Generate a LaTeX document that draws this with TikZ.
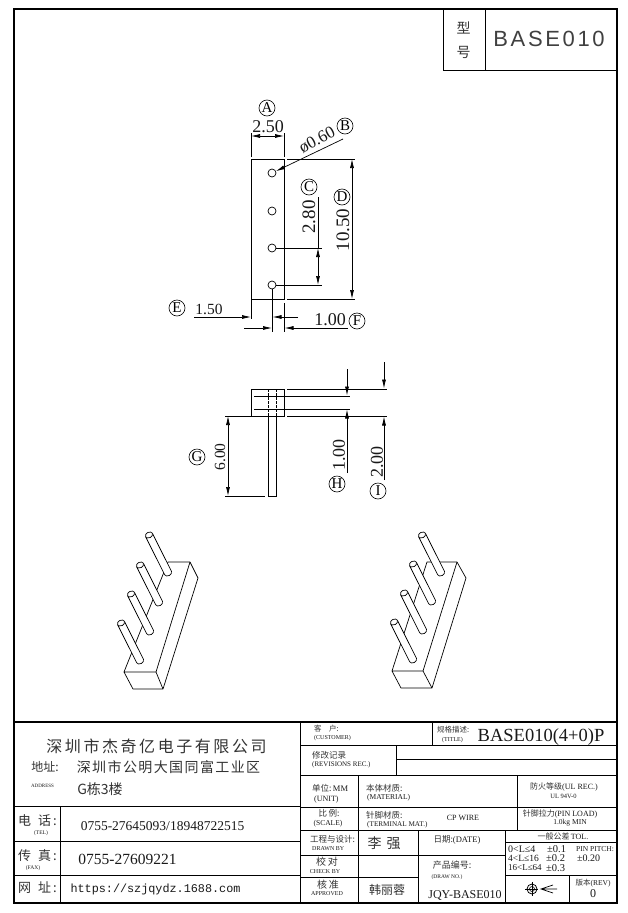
\documentclass[tikz,border=0pt]{standalone}
\usepackage{fontspec}
\setmainfont{Liberation Serif}
\setsansfont{Liberation Sans}
\setmonofont{Liberation Mono}
\newfontfamily\cjk[Color=333333]{Noto Sans CJK SC}
\usetikzlibrary{arrows.meta}
\newcommand{\fs}[1]{\fontsize{#1}{#1}\selectfont}
\newcommand{\ls}[1]{\addfontfeature{LetterSpace=#1}}
\tikzset{
  x=1pt,y=-1pt,
  frame line/.style={line width=0.9pt},
  thick frame/.style={line width=1.8pt},
  dim/.style={line width=0.7pt},
  arr/.style={dim,-{Latex[length=9pt,width=4pt]}},
  arrs/.style={dim,{Latex[length=9pt,width=4pt]}-{Latex[length=9pt,width=4pt]}},
  tx/.style={inner sep=0pt,anchor=center,text=black!90},
  txl/.style={inner sep=0pt,anchor=west,text=black!90},
  circled/.style={draw,circle,line width=0.6pt,inner sep=0pt,minimum size=16pt,font=\fs{15}},
  solid3d/.style={line width=0.7pt,line join=round},
}
% pin: top (x,y), rotated so that local x runs along the pin
\newcommand{\pin}[2]{%
  \begin{scope}[shift={(#1,#2)},rotate=-63.4]
    \draw[solid3d,fill=white] (0,-3.8) -- (42.5,-3.8) arc[start angle=-90,end angle=90,x radius=2.8,y radius=3.8] -- (0,3.8) -- cycle;
    \draw[solid3d,fill=white] (0,0) ellipse [x radius=2.8,y radius=3.8];
  \end{scope}}
\begin{document}
\begin{tikzpicture}
\useasboundingbox (0,0) rectangle (627,913);
\fill[white] (0,0) rectangle (627,913);
% frame
\draw[thick frame] (14,9) rectangle (617,903);
\draw[frame line] (443,9) -- (443,70) -- (617,70);
\draw[frame line] (485,9) -- (485,70);
\node[tx] (xing) at (463.5,28) {\cjk\fs{14}型};
\node[tx] (hao) at (463.5,52) {\cjk\fs{14}号};
\node[tx,text=black!75] (modelname) at (549,39) {\sffamily\fs{22}\ls{12}BASE010};

% top view
\draw[frame line] (251,159) rectangle (284,299);
\foreach \n/\y in {a/173,b/211,c/248,d/285}{
  \node[draw,circle,line width=0.7pt,minimum size=8pt,inner sep=0pt] (h\n) at (272,\y) {};
}
% dim A
\coordinate (a1) at (251,157); \coordinate (a2) at (284,157);
\coordinate (a1t) at (251,133); \coordinate (a2t) at (284,133);
\draw[dim] (a1)--(a1t) (a2)--(a2t);
\coordinate (am) at (267.5,136); \coordinate (al) at (251,136); \coordinate (ar) at (284,136);
\draw[arr] (am)--(al); \draw[arr] (am)--(ar);
\node[tx] (t250) at (268,126.5) {\fs{18}2.50};
\node[circled] (cA) at (267,108) {A};
% leader B
\coordinate (lb) at (343,139);
\draw[arr] (lb)--(ha.25);
\node[tx,rotate=28] (t060) at (317,140) {\fs{17}ø0.60};
\node[circled] (cB) at (345,126) {B};
% dim D
\coordinate (d1a) at (287,159); \coordinate (d1b) at (355,159);
\coordinate (d2a) at (287,299); \coordinate (d2b) at (355,299);
\draw[dim] (d1a)--(d1b) (d2a)--(d2b);
\coordinate (dt) at (352,159); \coordinate (db) at (352,299);
\draw[arrs] (dt)--(db);
\node[tx,rotate=90] (t1050) at (343,230) {\fs{19}10.50};
\node[circled] (cD) at (342,197) {D};
% dim C
\coordinate (cc1) at (322,248); \coordinate (cc2) at (322,285);
\draw[dim] (hc)--(cc1) (hd)--(cc2);
\coordinate (ct) at (318,197); \coordinate (c1) at (318,248); \coordinate (c2) at (318,285);
\draw[dim] (ct)--(c1);
\draw[arrs] (c1)--(c2);
\node[tx,rotate=90] (t280) at (309,217) {\fs{19}2.80};
\node[circled] (cC) at (309,187) {C};
% dims E, F
\coordinate (e1) at (251,319); \coordinate (f1) at (284,303); \coordinate (f2) at (284,332);
\coordinate (g2) at (272,332);
\draw[dim] (251,299)--(e1) (f1)--(f2) (hd)--(g2);
\coordinate (el) at (194,317); \coordinate (et) at (251,317);
\draw[arr] (el)--(et);
\coordinate (er) at (298,317); \coordinate (er2) at (272.5,317);
\draw[arr] (er)--(er2);
\coordinate (fl) at (244,328); \coordinate (fl2) at (272,328);
\draw[arr] (fl)--(fl2);
\coordinate (fr) at (348,328); \coordinate (fr2) at (284.5,328);
\draw[arr] (fr)--(fr2);
\node[tx] (t150) at (209,309) {\fs{15.5}1.50};
\node[tx] (t100) at (330,320) {\fs{18}1.00};
\node[circled] (cE) at (177,308) {E};
\node[circled] (cF) at (357,321) {F};

% side view
\draw[frame line] (251,389) rectangle (284,416);
\draw[frame line] (268,416) -- (268,496) -- (276,496) -- (276,416);
\draw[dim,dash pattern=on 2.5pt off 1.5pt] (268,389)--(268,416) (276,389)--(276,416);
\coordinate (l1) at (254,396); \coordinate (l1r) at (350,396);
\coordinate (l2) at (254,409); \coordinate (l2r) at (350,409);
\draw[dim] (l1)--(l1r) (l2)--(l2r);
\coordinate (s1) at (287,389); \coordinate (s1r) at (387,389);
\coordinate (s2) at (287,416); \coordinate (s2r) at (387,416);
\draw[dim] (s1)--(s1r) (s2)--(s2r);
\draw[dim] (225,416)--(251,416);
\draw[dim] (225,496)--(265,496);
\draw[arrs] (228,416)--(228,496);
\node[tx,rotate=90] (t600) at (220,457) {\fs{15.5}6.00};
\node[circled] (cG) at (197,457) {G};
\coordinate (h1a) at (347,369); \coordinate (h1b) at (347,395.5);
\coordinate (h2a) at (347,473); \coordinate (h2b) at (347,409.5);
\draw[arr] (h1a)--(h1b); \draw[arr] (h2a)--(h2b);
\node[tx,rotate=90] (t100b) at (339,455) {\fs{18}1.00};
\node[circled] (cH) at (337,484) {H};
\coordinate (i1a) at (384,362); \coordinate (i1b) at (384,388.5);
\coordinate (i2a) at (384,480); \coordinate (i2b) at (384,416.5);
\draw[arr] (i1a)--(i1b); \draw[arr] (i2a)--(i2b);
\node[tx,rotate=90] (t200) at (377,462) {\fs{18}2.00};
\node[circled] (cI) at (378,491) {I};

% 3D left
\draw[solid3d] (124,672)--(168,562)--(190,562)--(198,578)--(163,689)--(133,689)--(124,672)--(156,672)--(163,689);
\draw[solid3d] (156,672)--(190,562);
\pin{149}{535}\pin{140}{565}\pin{131}{594}\pin{121}{623}
% 3D right
\draw[solid3d] (392,671)--(427,562)--(457,562)--(466,578)--(432,688)--(401,688)--(392,671)--(423,671)--(432,688);
\draw[solid3d] (423,671)--(457,562);
\pin{422}{535}\pin{413}{564}\pin{404}{593}\pin{394}{622}

% title block lines
\draw[thick frame] (14,722)--(617,722);
\draw[frame line] (300,722)--(300,903);
\draw[frame line] (14,806)--(300,806) (14,841)--(300,841) (14,875)--(300,875);
\draw[frame line] (60,806)--(60,903);
\draw[frame line] (300,745)--(617,745);
\draw[frame line] (432,722)--(432,745);
\draw[frame line] (396,745)--(396,775);
\draw[frame line] (396,759)--(617,759);
\draw[frame line] (300,775)--(617,775);
\draw[frame line] (300,807)--(617,807);
\draw[frame line] (300,830)--(617,830);
\draw[frame line] (358,775)--(358,903);
\draw[frame line] (517,775)--(517,830);
\draw[frame line] (418,830)--(418,903);
\draw[frame line] (505,830)--(505,903);
\draw[frame line] (505,842)--(617,842);
\draw[frame line] (505,875)--(617,875);
\draw[frame line] (300,855)--(505,855);
\draw[frame line] (569,875)--(569,903);
\draw[frame line] (300,877)--(418,877);

% left title block
\node[tx] (co) at (156.5,746) {\cjk\fs{16}\ls{16}深圳市杰奇亿电子有限公司};
\node[tx] (addr) at (45,767) {\cjk\fs{12}地址:};
\node[tx] (addr2) at (168.5,767) {\cjk\fs{14}\ls{10}深圳市公明大国同富工业区};
\node[tx] (addren) at (42.5,786) {\fs{5}ADDRESS};
\node[tx] (addr3) at (100,789) {\cjk\fs{14}G栋3楼};
\node[txl] (tel) at (18,821) {\cjk\fs{13}电\hspace{7pt}话\hspace{2pt}:};
\node[tx] (telen) at (41,833) {\fs{5.5}(TEL)};
\node[tx] (teln) at (162.5,826) {\fs{13.5}0755-27645093/18948722515};
\node[txl] (fax) at (18,856) {\cjk\fs{13}传\hspace{7pt}真\hspace{2pt}:};
\node[tx] (faxen) at (33,868) {\fs{5.5}(FAX)};
\node[tx] (faxn) at (127.5,859) {\fs{15.5}0755-27609221};
\node[txl] (web) at (18,888) {\cjk\fs{13}网\hspace{7pt}址\hspace{2pt}:};
\node[tx] (webn) at (155.5,889) {\ttfamily\fs{11.8}https://szjqydz.1688.com};

% right title block
\node[txl] (r1) at (314,729) {\cjk\fs{7.5}客\quad 户:};
\node[txl] (r2) at (314,738) {\fs{6}(CUSTOMER)};
\node[txl] (r3) at (437,730) {\cjk\fs{7.5}规格描述:};
\node[txl] (r4) at (442,740) {\fs{6}(TITLE)};
\node[tx] (r5) at (541,737) {\fs{18.5}BASE010(4+0)P};
\node[txl] (r6) at (312,755) {\cjk\fs{8.5}修改记录};
\node[txl] (r7) at (312,765) {\fs{7}(REVISIONS REC.)};
\node[txl] (r8) at (312,788) {\cjk\fs{8.5}单位:\,\rmfamily MM};
\node[txl] (r9) at (314,800) {\fs{8}(UNIT)};
\node[txl] (r10) at (366,788) {\cjk\fs{8.5}本体材质:};
\node[txl] (r11) at (367,798) {\fs{7.5}(MATERIAL)};
\node[tx] (r12) at (329,813) {\cjk\fs{8.5}比\,例:};
\node[tx] (r13) at (328,824) {\fs{7.5}(SCALE)};
\node[txl] (r14) at (366,815) {\cjk\fs{8.5}针脚材质:};
\node[txl] (r15) at (367,825) {\fs{7.2}(TERMINAL MAT.)};
\node[tx] (r16) at (463,818) {\fs{8}CP WIRE};
\node[tx] (r17) at (332.5,839) {\cjk\fs{8.5}工程与设计:};
\node[txl] (r18) at (312,849) {\fs{6}DRAWN BY};
\node[tx] (r19) at (384,843) {\cjk\fs{14}李\hspace{5pt}强};
\node[tx] (r20) at (457,840) {\cjk\fs{8.5}日期:{\rmfamily (DATE)}};
\node[tx] (r21) at (327,862) {\cjk\fs{10}校\,对};
\node[tx] (r22) at (325,872) {\fs{6}CHECK BY};
\node[tx] (r23) at (452,865) {\cjk\fs{9}产品编号:};
\node[tx] (r24) at (447,877) {\fs{5.5}(DRAW NO.)};
\node[tx] (r25) at (328,885) {\cjk\fs{10}核\,准};
\node[tx] (r26) at (327,894) {\fs{6}APPROVED};
\node[tx] (r27) at (387,890) {\cjk\fs{12}韩丽蓉};
\node[tx] (r28) at (465,895) {\fs{12}JQY-BASE010};
\node[tx] (r29) at (564,787) {\cjk\fs{8}防火等级{\rmfamily (UL REC.)}};
\node[tx] (r30) at (563.5,796) {\fs{6.5}UL 94V-0};
\node[tx] (r31) at (560,814) {\cjk\fs{8}针脚拉力{\rmfamily (PIN LOAD)}};
\node[tx] (r32) at (570,823) {\fs{7.5}1.0kg MIN};
\node[tx] (r33) at (563,836) {\cjk\fs{8}一般公差\,{\rmfamily TOL.}};
\node[txl] (r34) at (508,849) {\fs{10}0<L≤4};
\node[txl] (r35) at (547,849) {\fs{10.5}±0.1};
\node[txl] (r36) at (576,849) {\fs{7.5}PIN PITCH:};
\node[txl] (r37) at (508,858) {\fs{9.5}4<L≤16};
\node[txl] (r38) at (546,858) {\fs{10.5}±0.2};
\node[txl] (r39) at (577,858) {\fs{10}±0.20};
\node[txl] (r40) at (508,868) {\fs{9}16<L≤64};
\node[txl] (r41) at (546,868) {\fs{10.5}±0.3};
\node[tx] (r42) at (593,883) {\cjk\fs{7.5}版本{\rmfamily (REV)}};
\node[tx] (r43) at (593,894) {\fs{12}0};
% projection symbol
\node[draw,circle,line width=0.8pt,minimum size=10pt,inner sep=0pt] (pc) at (532,889) {};
\node[draw,circle,line width=0.6pt,minimum size=5pt,inner sep=0pt] (pc2) at (532,889) {};
\coordinate (pl) at (525,889); \coordinate (pr) at (538,889);
\coordinate (pa) at (532,882); \coordinate (pb) at (532,896);
\draw[dim] (pl)--(pr) (pa)--(pb);
\coordinate (ca) at (541,889); \coordinate (cb) at (553,885); \coordinate (cd) at (553,893); \coordinate (ce) at (557,889);
\draw[dim] (cb)--(ca)--(cd) (ca)--(ce);
\end{tikzpicture}
\end{document}
